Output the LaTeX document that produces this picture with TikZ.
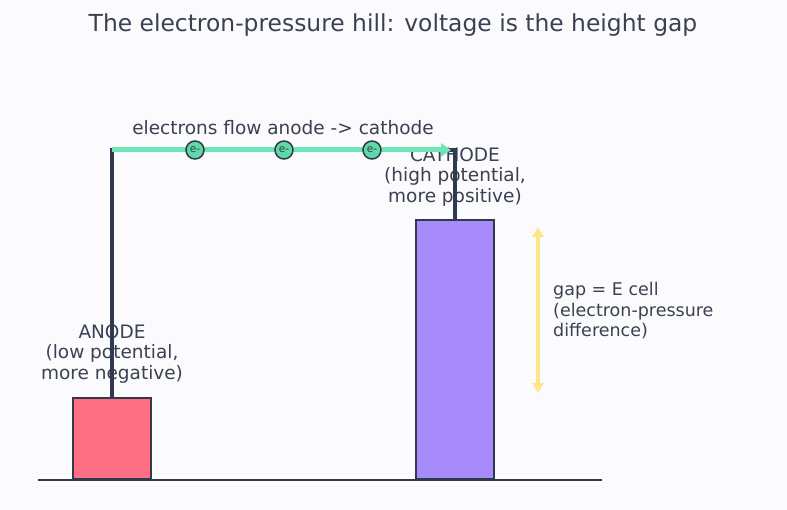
\documentclass[tikz,border=0pt]{standalone}
\usepackage{fontspec}
\setmainfont{DejaVu Sans}
\usetikzlibrary{arrows.meta}
\definecolor{bg}{HTML}{FBFBFE}
\definecolor{ink}{HTML}{2F3A4F}
\definecolor{txt}{HTML}{3A4150}
\definecolor{anodec}{HTML}{FF6F84}
\definecolor{cathc}{HTML}{A78BFA}
\definecolor{flow}{HTML}{6EE7B7}
\definecolor{efill}{HTML}{5FD9A8}
\definecolor{gapc}{HTML}{FDE68A}
\tikzset{
  lbl/.style={text=txt, font=\fontsize{18.5}{20.7}\selectfont, align=center, inner sep=0pt},
  electrode/.style={draw=ink, line width=2pt},
  wire/.style={draw=ink, line width=3.4pt},
  elec/.style={circle, draw=ink, line width=1.5pt, fill=efill, minimum size=18pt, inner sep=0pt, font=\fontsize{10.5}{10.5}\selectfont, text=txt},
}
\begin{document}
\begin{tikzpicture}[x=1pt,y=-1pt]
\useasboundingbox (0,0) rectangle (787,510);
\fill[bg] (0,0) rectangle (787,510);
\node[lbl, font=\fontsize{23.4}{27}\selectfont] (title) at (393,25) {The electron-pressure hill: voltage is the height gap};
% ground line
\coordinate (g0) at (38,480);
\coordinate (g1) at (602,480);
\draw[ink, line width=1.5pt] (g0) -- (g1);
% electrodes
\node[electrode, fill=anodec, minimum width=78pt, minimum height=81pt, inner sep=0pt, anchor=south] (anode) at (112,480) {};
\node[electrode, fill=cathc, minimum width=78pt, minimum height=259pt, inner sep=0pt, anchor=south] (cathode) at (455,480) {};
% labels
\node[lbl] (anodelbl) at (112,354) {ANODE\\(low potential,\\more negative)};
\node[lbl] (cathlbl) at (455,177) {CATHODE\\(high potential,\\more positive)};
\node[lbl] (flowlbl) at (283,128) {electrons flow anode -> cathode};
\node[lbl, font=\fontsize{17.5}{20.5}\selectfont, align=left, anchor=west] (gaplbl) at (553,311) {gap = E cell\\(electron-pressure\\difference)};
% wire
\coordinate (wa) at (112,150);
\coordinate (wc) at (455,150);
\draw[wire] (anode.north) -- (wa) -- (wc) -- (cathode.north);
% flow arrow
\coordinate (fend) at (451,150);
\draw[flow, line width=5pt, -{Triangle[length=10pt,width=13pt]}] (wa) -- (fend);
\node[elec] (e1) at (195,150) {e-};
\node[elec] (e2) at (284,150) {e-};
\node[elec] (e3) at (372,150) {e-};
% gap arrow
\coordinate (gt) at (538,227);
\coordinate (gb) at (538,393);
\draw[gapc, line width=4pt, {Triangle[length=10pt,width=11pt]}-{Triangle[length=10pt,width=11pt]}] (gt) -- (gb);
\end{tikzpicture}
\end{document}
